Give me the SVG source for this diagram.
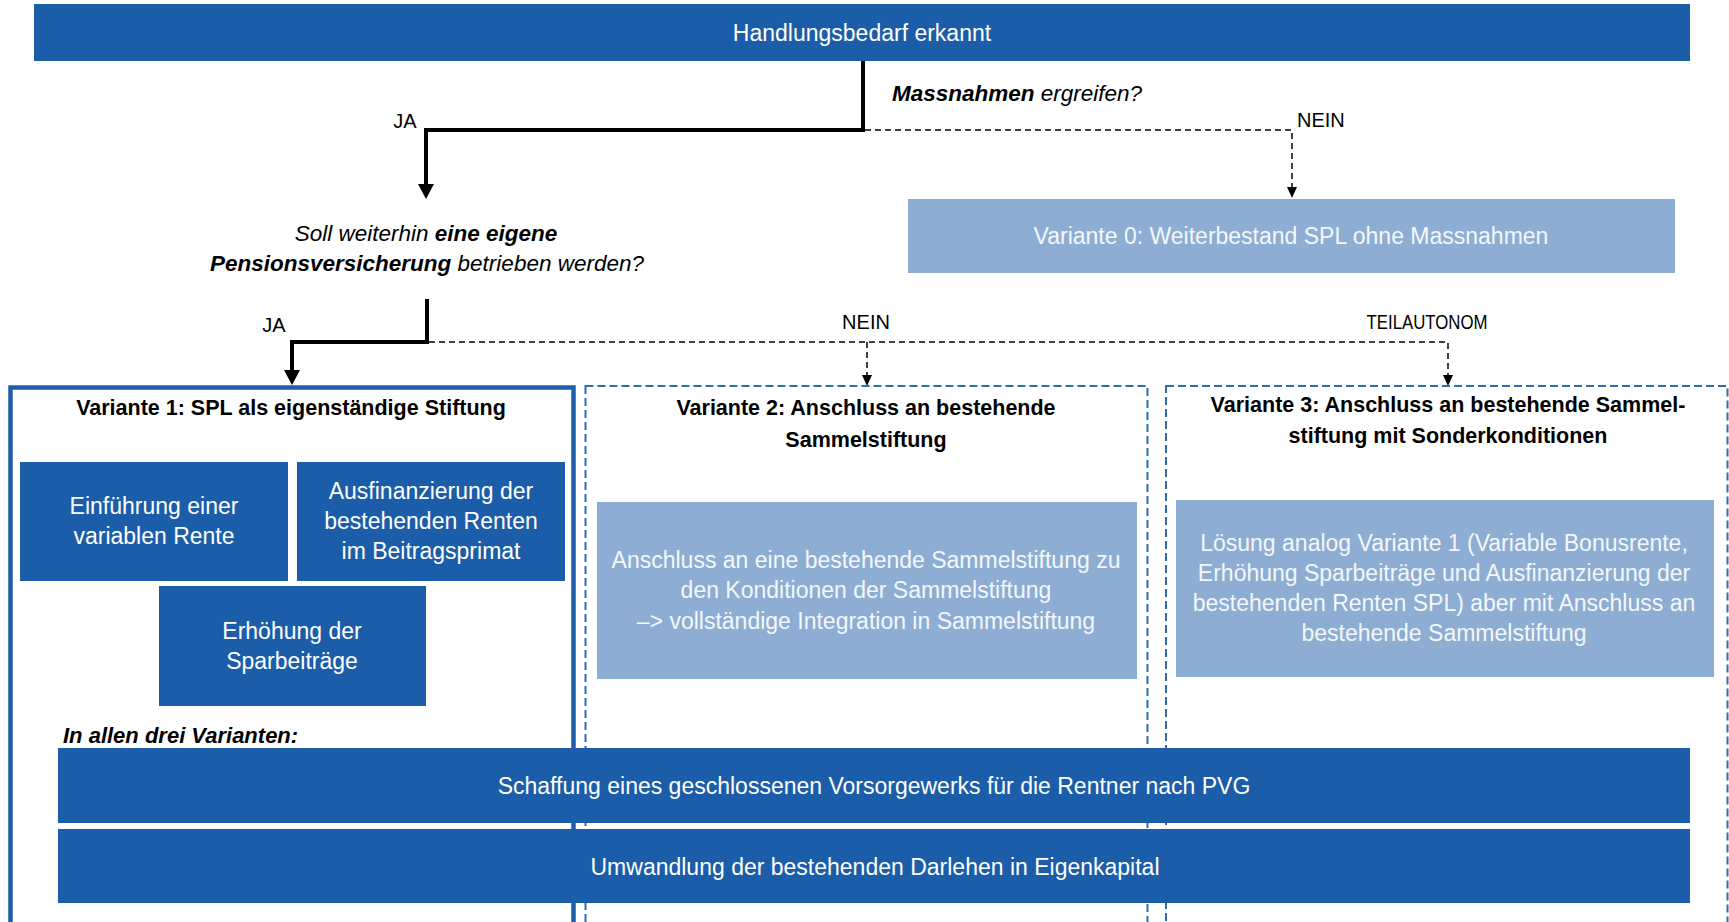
<svg xmlns="http://www.w3.org/2000/svg" width="1729" height="922" viewBox="0 0 1729 922">
<defs>
<style>
text{font-family:"Liberation Sans",Arial,sans-serif;}
.dark{fill:#1B5DA8;}
.light{fill:#8EADD3;}
.wt{fill:#FFFFFF;font-size:23px;text-anchor:middle;}
.lt{fill:#F4F7FB;font-size:23px;text-anchor:middle;}
.bt{fill:#000;font-size:21.5px;font-weight:bold;text-anchor:middle;}
.lbl{fill:#000;font-size:20px;}
.q{fill:#000;font-size:22.5px;font-style:italic;}
.solid{fill:none;stroke:#000;stroke-width:4;}
.dash{fill:none;stroke:#000;stroke-width:1.5;stroke-dasharray:6 4;}
.dbox{fill:none;stroke:#2F6BB0;stroke-width:2;stroke-dasharray:8 4;}
</style>
<marker id="aS" markerUnits="userSpaceOnUse" markerWidth="16" markerHeight="16" refX="0" refY="8" orient="auto"><path d="M0,0 L15,8 L0,16 Z" fill="#000"/></marker>
<marker id="aD" markerUnits="userSpaceOnUse" markerWidth="12" markerHeight="10" refX="0" refY="5" orient="auto"><path d="M0,0 L11,5 L0,10 Z" fill="#000"/></marker>
</defs>
<rect width="1729" height="922" fill="#FFFFFF"/>

<g id="n-top">
<rect class="dark" x="34" y="4" width="1656" height="57"/>
<text class="wt" x="862" y="41">Handlungsbedarf erkannt</text>
</g>

<g id="connectors">
<path class="solid" d="M863,61 V130 H426 V184" marker-end="url(#aS)"/>
<path class="dash" d="M865,130 H1292 V187" marker-end="url(#aD)"/>
<path class="solid" d="M427,299 V342 H292 V370" marker-end="url(#aS)"/>
<path class="dash" d="M429,342 H1448 V375" marker-end="url(#aD)"/>
<path class="dash" d="M867,342 V375" marker-end="url(#aD)"/>
<text class="lbl" x="405" y="128" text-anchor="middle">JA</text>
<text class="lbl" x="1297" y="127">NEIN</text>
<text class="lbl" x="274" y="332" text-anchor="middle">JA</text>
<text class="lbl" x="866" y="329" text-anchor="middle">NEIN</text>
<text class="lbl" x="1427" y="329" text-anchor="middle" textLength="121" lengthAdjust="spacingAndGlyphs">TEILAUTONOM</text>
</g>

<g id="q1">
<text class="q" x="892" y="101"><tspan font-weight="bold">Massnahmen</tspan> ergreifen?</text>
</g>

<g id="q2">
<text class="q" x="426" y="241" text-anchor="middle">Soll weiterhin <tspan font-weight="bold">eine eigene</tspan></text>
<text class="q" x="427" y="271" text-anchor="middle"><tspan font-weight="bold">Pensionsversicherung</tspan> betrieben werden?</text>
</g>

<g id="v0">
<rect class="light" x="908" y="199" width="767" height="74"/>
<text class="lt" x="1291" y="244">Variante 0: Weiterbestand SPL ohne Massnahmen</text>
</g>

<g id="v1">
<rect x="10.5" y="387.5" width="563" height="600" fill="none" stroke="#1F5EAB" stroke-width="4.5"/>
<text class="bt" x="291" y="415">Variante 1: SPL als eigenständige Stiftung</text>
</g>
<g id="v1a">
<rect class="dark" x="20" y="462" width="268" height="119"/>
<text class="wt" x="154" y="514">Einführung einer</text>
<text class="wt" x="154" y="544">variablen Rente</text>
</g>
<g id="v1b">
<rect class="dark" x="297" y="462" width="268" height="119"/>
<text class="wt" x="431" y="499">Ausfinanzierung der</text>
<text class="wt" x="431" y="529">bestehenden Renten</text>
<text class="wt" x="431" y="559">im Beitragsprimat</text>
</g>
<g id="v1c">
<rect class="dark" x="159" y="586" width="267" height="120"/>
<text class="wt" x="292" y="639">Erhöhung der</text>
<text class="wt" x="292" y="669">Sparbeiträge</text>
</g>

<g id="v2">
<rect class="dbox" x="585.5" y="386" width="562" height="600"/>
<text class="bt" x="866" y="415">Variante 2: Anschluss an bestehende</text>
<text class="bt" x="866" y="447">Sammelstiftung</text>
</g>
<g id="v2a">
<rect class="light" x="597" y="502" width="540" height="177"/>
<text class="lt" x="866" y="568">Anschluss an eine bestehende Sammelstiftung zu</text>
<text class="lt" x="866" y="598">den Konditionen der Sammelstiftung</text>
<text class="lt" x="866" y="629">–&gt; vollständige Integration in Sammelstiftung</text>
</g>

<g id="v3">
<rect class="dbox" x="1166" y="386" width="561.5" height="600"/>
<text class="bt" x="1448" y="412">Variante 3: Anschluss an bestehende Sammel-</text>
<text class="bt" x="1448" y="443">stiftung mit Sonderkonditionen</text>
</g>
<g id="v3a">
<rect class="light" x="1176" y="500" width="538" height="177"/>
<text class="lt" x="1444" y="551">Lösung analog Variante 1 (Variable Bonusrente,</text>
<text class="lt" x="1444" y="581">Erhöhung Sparbeiträge und Ausfinanzierung der</text>
<text class="lt" x="1444" y="611">bestehenden Renten SPL) aber mit Anschluss an</text>
<text class="lt" x="1444" y="641">bestehende Sammelstiftung</text>
</g>

<g id="common">
<text x="63" y="743" font-size="22" font-weight="bold" font-style="italic" fill="#000">In allen drei Varianten:</text>
</g>
<g id="bar1">
<rect class="dark" x="58" y="748" width="1632" height="75"/>
<text class="wt" x="874" y="794">Schaffung eines geschlossenen Vorsorgewerks für die Rentner nach PVG</text>
</g>
<g id="bar2">
<rect class="dark" x="58" y="829" width="1632" height="74"/>
<text class="wt" x="875" y="875">Umwandlung der bestehenden Darlehen in Eigenkapital</text>
</g>
</svg>
